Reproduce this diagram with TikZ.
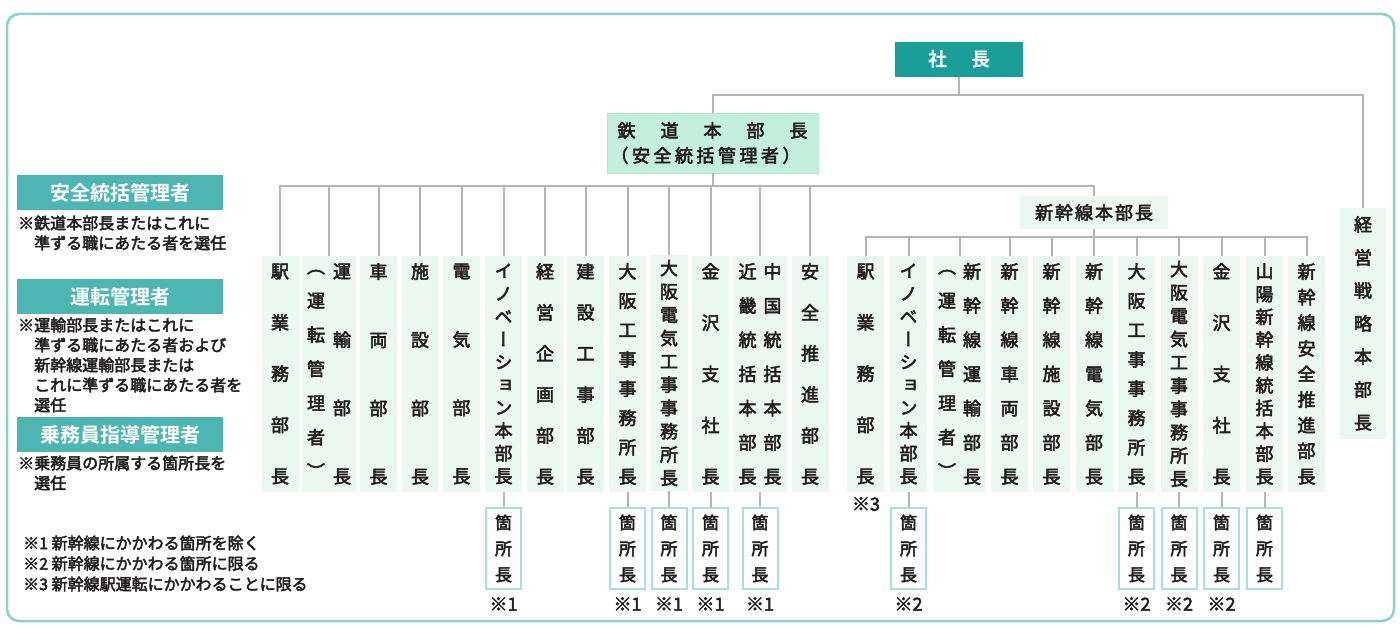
\documentclass[tikz,border=0pt]{standalone}
\usepackage{fontspec}
\newfontfamily\jp[FakeBold=3]{Noto Sans CJK JP}
\newfontfamily\jpb[BoldFont={* Bold}]{Noto Sans CJK JP}
\newfontfamily\jpv[RawFeature=+vert,FakeBold=3]{Noto Sans CJK JP}
\definecolor{tealA}{HTML}{1A9E99}
\definecolor{tealB}{HTML}{4DB6B2}
\definecolor{mint}{HTML}{C4EFDF}
\definecolor{mintedge}{HTML}{B2E6D4}
\definecolor{colfill}{HTML}{EAF8F1}
\definecolor{cconn}{HTML}{B4B4B4}
\definecolor{kbord}{HTML}{A8DEDC}
\definecolor{outerc}{HTML}{8DD0CC}
\definecolor{txt}{HTML}{231F20}
\newcommand\colfont[1]{\jpv\fontsize{18}{#1}\selectfont}
\tikzset{
  conn/.style={draw=cconn, line width=2pt},
  colbox/.style={fill=colfill, inner sep=0pt, minimum height=236pt, minimum width=37pt},
  ctext/.style={inner sep=0pt, align=center, text=txt},
  kbox/.style={draw=kbord, line width=2pt, fill=white, minimum width=35pt, minimum height=81pt,
    inner sep=0pt, align=center, text=txt, font=\jpv\fontsize{17}{26}\selectfont},
  hdr/.style={fill=tealB, text=white, minimum width=206pt, minimum height=35pt, inner sep=0pt,
    font=\jpb\bfseries\fontsize{20}{20}\selectfont},
  lnote/.style={anchor=west, align=left, inner sep=0pt, text=txt, font=\jp\fontsize{16}{20}\selectfont},
  smark/.style={inner sep=0pt, text=txt, font=\jp\fontsize{18}{18}\selectfont},
}
\begin{document}
\begin{tikzpicture}[x=1pt,y=-1pt]
\useasboundingbox (0,0) rectangle (1400,628);
\draw[outerc, line width=2.5pt, rounded corners=12pt] (7,14) rectangle (1394,621);

% top
\node[fill=tealA, text=white, minimum width=128pt, minimum height=35pt, inner sep=0pt,
  font=\jpb\bfseries\fontsize{19}{19}\selectfont] (pres) at (959,59.5) {社\hspace{24pt}長};
\node[fill=mint, draw=mintedge, line width=0.8pt, minimum width=211pt, minimum height=60pt, inner sep=0pt,
  align=center, text=txt, font=\jp\fontsize{18}{25}\selectfont] (tetsu) at (712.5,143)
  {鉄\hspace{25pt}道\hspace{25pt}本\hspace{25pt}部\hspace{25pt}長\\
   （\kern3.5pt安\kern3.5pt全\kern3.5pt統\kern3.5pt括\kern3.5pt管\kern3.5pt理\kern3.5pt者\kern3.5pt）\kern14pt};
\node[fill=colfill, minimum width=148pt, minimum height=33pt, inner sep=0pt, text=txt,
  font=\jp\fontsize{18}{18}\selectfont] (shin) at (1094,212.5)
  {新\kern2pt幹\kern2pt線\kern2pt本\kern2pt部\kern2pt長};
\node[fill=colfill, inner sep=0pt, minimum width=46pt, minimum height=231pt, align=center, text=txt,
  font=\colfont{33}] (keiei) at (1363,323.5) {経\\営\\戦\\略\\本\\部\\長};

% first group
\node[colbox, ctext, font=\colfont{51.25}] (c1) at (280,374) {駅\\業\\務\\部\\長};
\node[colbox, minimum width=54pt] (c2) at (329,374) {};
\node[ctext, font=\colfont{34.17}] (c2l) at (316,374) {（\\運\\転\\管\\理\\者\\）};
\node[ctext, font=\colfont{68.33}] (c2r) at (342,374) {運\\輸\\部\\長};
\node[colbox, ctext, font=\colfont{68.33}] (c3) at (378.5,374) {車\\両\\部\\長};
\node[colbox, ctext, font=\colfont{68.33}] (c4) at (420,374) {施\\設\\部\\長};
\node[colbox, ctext, font=\colfont{68.33}] (c5) at (461.5,374) {電\\気\\部\\長};
\node[colbox, ctext, font=\colfont{22.8}] (c6) at (503.5,374) {イ\\ノ\\ベ\\ー\\シ\\ョ\\ン\\本\\部\\長};
\node[colbox, ctext, font=\colfont{41}] (c7) at (545,374) {経\\営\\企\\画\\部\\長};
\node[colbox, ctext, font=\colfont{41}] (c8) at (585.5,374) {建\\設\\工\\事\\部\\長};
\node[colbox, ctext, font=\colfont{29.3}] (c9) at (627.5,374) {大\\阪\\工\\事\\事\\務\\所\\長};
\node[colbox, ctext, font=\colfont{23.3}] (c10) at (669,373) {大\\阪\\電\\気\\工\\事\\事\\務\\所\\長};
\node[colbox, ctext, font=\colfont{51.25}] (c11) at (710.5,374) {金\\沢\\支\\社\\長};
\node[colbox, minimum width=54pt] (c12) at (760,374) {};
\node[ctext, font=\colfont{34.17}] (c12l) at (747.5,374) {近\\畿\\統\\括\\本\\部\\長};
\node[ctext, font=\colfont{34.17}] (c12r) at (772.5,374) {中\\国\\統\\括\\本\\部\\長};
\node[colbox, ctext, font=\colfont{41}] (c13) at (810,374) {安\\全\\推\\進\\部\\長};

% second group
\node[colbox, ctext, font=\colfont{51.25}] (d1) at (865.5,374) {駅\\業\\務\\部\\長};
\node[colbox, ctext, font=\colfont{22.8}] (d2) at (908.5,374) {イ\\ノ\\ベ\\ー\\シ\\ョ\\ン\\本\\部\\長};
\node[colbox, minimum width=53pt] (d3) at (959.5,374) {};
\node[ctext, font=\colfont{34.17}] (d3l) at (947,374) {（\\運\\転\\管\\理\\者\\）};
\node[ctext, font=\colfont{34.17}] (d3r) at (972,374) {新\\幹\\線\\運\\輸\\部\\長};
\node[colbox, ctext, font=\colfont{34.17}] (d4) at (1009.5,374) {新\\幹\\線\\車\\両\\部\\長};
\node[colbox, ctext, font=\colfont{34.17}] (d5) at (1051.5,374) {新\\幹\\線\\施\\設\\部\\長};
\node[colbox, ctext, font=\colfont{34.17}] (d6) at (1094,374) {新\\幹\\線\\電\\気\\部\\長};
\node[colbox, ctext, font=\colfont{29.3}] (d7) at (1136.5,374) {大\\阪\\工\\事\\事\\務\\所\\長};
\node[colbox, ctext, font=\colfont{23.3}] (d8) at (1179,374) {大\\阪\\電\\気\\工\\事\\事\\務\\所\\長};
\node[colbox, ctext, font=\colfont{51.25}] (d9) at (1221.5,374) {金\\沢\\支\\社\\長};
\node[colbox, ctext, font=\colfont{22.8}] (d10) at (1264.5,374) {山\\陽\\新\\幹\\線\\統\\括\\本\\部\\長};
\node[colbox, ctext, font=\colfont{25.6}] (d11) at (1306.5,374) {新\\幹\\線\\安\\全\\推\\進\\部\\長};

% connectors top
\coordinate (barA) at (0,95.5);
\coordinate (barB) at (0,186);
\coordinate (barC) at (0,237);
\draw[conn] (pres.south) -- (pres.south |- barA);
\draw[conn] (tetsu.north) -- (tetsu.north |- barA) -| (keiei.north);
\draw[conn] (tetsu.south) -- (tetsu.south |- barB);
\draw[conn] (c1.north) -- (c1.north |- barB) -| (shin.north);
\foreach \n in {c2,c3,c4,c5,c6,c7,c8,c9,c10,c11,c12,c13}
  \draw[conn] (\n.north) -- (\n.north |- barB);
\draw[conn] (shin.south) -- (shin.south |- barC);
\draw[conn] (d1.north) -- (d1.north |- barC) -| (d11.north);
\foreach \n in {d2,d3,d4,d5,d6,d7,d8,d9,d10}
  \draw[conn] (\n.north) -- (\n.north |- barC);

% kasho boxes
\foreach \p/\k/\xx in {c6/k1/503.5, c9/k2/627.5, c10/k3/669, c11/k4/710.5, c12/k5/760,
                      d2/k6/908.5, d7/k7/1136.5, d8/k8/1179, d9/k9/1221.5, d10/k10/1264.5}{
  \node[kbox] (\k) at (\xx,548.5) {箇\\所\\長};
  \draw[conn] (\p.south) -- (\k.north);
}
\foreach \k/\xx/\t in {s1/503.5/1, s2/627.5/1, s3/669/1, s4/710.5/1, s5/760/1,
                      s6/908.5/2, s7/1136.5/2, s8/1179/2, s9/1221.5/2}
  \node[smark] (\k) at (\xx,604) {※\t};
\node[smark] (s10) at (866,504) {※3};

% left legend
\node[hdr] (h1) at (120,193) {安全統括管理者};
\node[lnote] (n1) at (18,233) {※鉄道本部長またはこれに\\\hspace*{1em}準ずる職にあたる者を選任};
\node[hdr] (h2) at (120,296.5) {運転管理者};
\node[lnote] (n2) at (18,365) {※運輸部長またはこれに\\\hspace*{1em}準ずる職にあたる者および\\\hspace*{1em}新幹線運輸部長または\\\hspace*{1em}これに準ずる職にあたる者を\\\hspace*{1em}選任};
\node[hdr] (h3) at (120,434.5) {乗務員指導管理者};
\node[lnote] (n3) at (18,473) {※乗務員の所属する箇所長を\\\hspace*{1em}選任};

\node[lnote, font=\jp\fontsize{16}{20.5}\selectfont] (fn) at (23,563.5)
  {※1 新幹線にかかわる箇所を除く\\※2 新幹線にかかわる箇所に限る\\※3 新幹線駅運転にかかわることに限る};
\end{tikzpicture}
\end{document}
